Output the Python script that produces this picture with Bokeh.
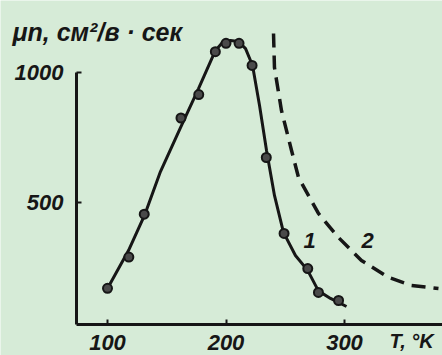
from bokeh.plotting import figure
from bokeh.models import Label, Range1d, FixedTicker, LinearAxis
from bokeh.embed import file_html
from bokeh.resources import INLINE

# Curve 1 (solid line)
curve1_T = [100, 117.7, 131.2, 144.7, 161.6, 176.8, 191.1, 197, 203.8, 210.5, 216.5,
            222.4, 228.3, 234.2, 240.9, 248.5, 258.6, 268.8, 278, 288.2, 301.7]
curve1_mu = [169, 315, 450, 619, 788, 938, 1085, 1115, 1123, 1119, 1092,
             1027, 873, 700, 527, 385, 296, 240, 160, 131, 100]
# Measured points on curve 1
pts_T = [100, 118, 131, 162, 177, 191, 200, 211, 222, 234, 249, 269, 278, 295]
pts_mu = [170, 290, 455, 825, 915, 1080, 1112, 1112, 1027, 673, 381, 246, 154, 123]
# Curve 2 (dashed)
curve2_T = [240.1, 240.9, 246.8, 255.3, 261.2, 278, 295, 314.3, 337.1, 356.5, 379.3]
curve2_mu = [1150, 1019, 854, 700, 596, 458, 365, 277, 212, 181, 169]

x_ticks = [100, 200, 300]
y_ticks = [500, 1000]

BG = "#d6ebd7"
INK = "#161616"
FONT = "Liberation Sans"

p = figure(width=442, height=355, output_backend="svg", toolbar_location=None,
           min_border=0, x_axis_location=None, y_axis_location=None,
           x_range=Range1d(9.7, 382.7), y_range=Range1d(-88.5, 1276.9))
p.background_fill_color = BG
p.border_fill_color = BG
p.outline_line_color = None
p.grid.visible = False

xax = LinearAxis(fixed_location=30.8, bounds=(73.8, 382.7), ticker=FixedTicker(ticks=x_ticks))
yax = LinearAxis(fixed_location=73.8, bounds=(30.8, 1000), ticker=FixedTicker(ticks=y_ticks))
for ax in (xax, yax):
    ax.axis_line_width = 3
    ax.axis_line_color = INK
    ax.major_tick_line_color = INK
    ax.major_tick_line_width = 2
    ax.major_tick_in = 5
    ax.major_tick_out = 0
    ax.minor_tick_line_color = None
    ax.major_label_text_font = FONT
    ax.major_label_text_font_style = "bold italic"
    ax.major_label_text_font_size = "22px"
    ax.major_label_text_color = INK
xax.major_label_standoff = 11
yax.major_label_standoff = 13
p.add_layout(xax, "below")
p.add_layout(yax, "left")

p.line(curve1_T, curve1_mu, line_color=INK, line_width=3)
p.line(curve2_T, curve2_mu, line_color=INK, line_width=3.5, line_dash="14 8")
p.scatter(pts_T, pts_mu, size=9, fill_color="#4a4a4a", line_color=INK, line_width=2)

common = dict(text_font=FONT, text_font_style="bold italic",
              text_color=INK, text_baseline="alphabetic")
p.add_layout(Label(x=19.8, y=1154, text="μn, см²/в · сек", text_font_size="25px", **common))
p.add_layout(Label(x=337.9, y=-34.5, text="T, °K", text_font_size="20px", **common))
p.add_layout(Label(x=265.4, y=354, text="1", text_font_size="22px", **common))
p.add_layout(Label(x=314.3, y=354, text="2", text_font_size="22px", **common))

open("out.html", "w").write(file_html(p, INLINE))
